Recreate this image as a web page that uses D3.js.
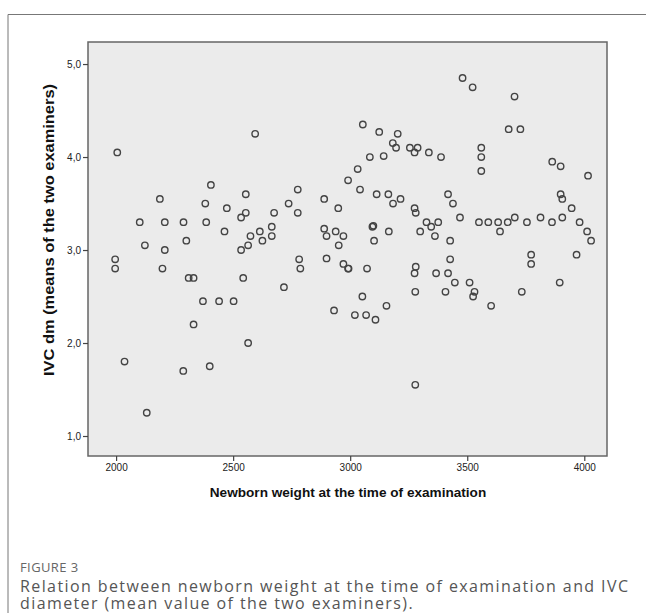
<!DOCTYPE html>
<html><head><meta charset="utf-8">
<script src="https://cdn.jsdelivr.net/npm/d3@7/dist/d3.min.js"></script>
<style>body{margin:0;background:#fff}svg{display:block}</style>
</head><body>
<script>
const weights = [1996,1996,2005,2036,2101,2123,2131,2187,2198,2208,2208,2287,2288,2300,2310,2331,2331,2371,2381,2385,2400,2405,2440,2463,2473,2502,2534,2534,2543,2554,2554,2564,2564,2574,2594,2614,2625,2665,2665,2675,2717,2737,2776,2776,2782,2787,2889,2889,2899,2899,2931,2938,2949,2951,2971,2971,2991,2991,2993,3020,3032,3042,3052,3054,3068,3072,3084,3095,3099,3102,3108,3113,3124,3143,3155,3163,3165,3182,3183,3196,3203,3215,3255,3275,3275,3275,3278,3278,3280,3280,3288,3299,3326,3336,3346,3362,3367,3376,3388,3407,3418,3418,3427,3427,3439,3447,3469,3480,3510,3523,3525,3531,3550,3560,3560,3560,3590,3602,3632,3640,3673,3677,3702,3703,3727,3733,3755,3773,3773,3813,3862,3863,3895,3899,3899,3906,3906,3946,3967,3980,4012,4016,4029];
const ivc = [2.90,2.80,4.05,1.80,3.30,3.05,1.25,3.55,2.80,3.30,3.00,1.70,3.30,3.10,2.70,2.70,2.20,2.45,3.50,3.30,1.75,3.70,2.45,3.20,3.45,2.45,3.35,3.00,2.70,3.60,3.40,3.05,2.00,3.15,4.25,3.20,3.10,3.25,3.15,3.40,2.60,3.50,3.65,3.40,2.90,2.80,3.55,3.23,3.15,2.91,2.35,3.20,3.45,3.05,3.15,2.85,3.75,2.80,2.80,2.30,3.87,3.65,2.50,4.35,2.30,2.80,4.00,3.25,3.26,3.10,2.25,3.60,4.27,4.01,2.40,3.60,3.20,4.15,3.50,4.10,4.25,3.55,4.10,4.05,3.45,2.75,2.55,1.55,3.40,2.82,4.10,3.20,3.30,4.05,3.25,3.15,2.75,3.30,4.00,2.55,3.60,2.75,3.10,2.90,3.50,2.65,3.35,4.85,2.65,4.75,2.50,2.55,3.30,4.10,4.00,3.85,3.30,2.40,3.30,3.20,3.30,4.30,4.65,3.35,4.30,2.55,3.30,2.95,2.85,3.35,3.30,3.95,2.65,3.90,3.60,3.55,3.35,3.45,2.95,3.30,3.20,3.80,3.10];
const xTicks = [2000,2500,3000,3500,4000];
const yTicks = [1,2,3,4,5];
const xTitle = "Newborn weight at the time of examination";
const yTitle = "IVC dm (means of the two examiners)";
const figLabel = "FIGURE 3";
const captionLines = ["Relation between newborn weight at the time of examination and IVC","diameter (mean value of the two examiners)."];

const W = 646, H = 613;
const svg = d3.select("body").append("svg").attr("width", W).attr("height", H);

// outer frame
svg.append("path").attr("d", `M8,${H} V14.5 H${W}`).attr("fill","none").attr("stroke","#777").attr("stroke-width",1);

const L = 88, R = 607, T = 42, B = 456;
const x = d3.scaleLinear().domain([1880, 4097]).range([L, R]);
const y = d3.scaleLinear().domain([0.785, 5.237]).range([B, T]);

svg.append("rect").attr("x",L).attr("y",T).attr("width",R-L).attr("height",B-T)
  .attr("fill","#ebebeb").attr("stroke","#666").attr("stroke-width",1.5);

const xAxis = svg.append("g").attr("transform",`translate(0,${B})`)
  .call(d3.axisBottom(x).tickValues(xTicks).tickSize(5).tickPadding(3).tickFormat(d3.format("d")));
const yAxis = svg.append("g").attr("transform",`translate(${L},0)`)
  .call(d3.axisLeft(y).tickValues(yTicks).tickSize(5).tickPadding(2).tickFormat(d => d3.format(".1f")(d).replace(".", ",")));
[xAxis, yAxis].forEach(g => {
  g.select(".domain").remove();
  g.selectAll("line").attr("stroke","#444").attr("stroke-width",1.2);
  g.selectAll("text").attr("font-family","Arial, 'Liberation Sans', sans-serif").attr("font-size",10).attr("fill","#222");
});

svg.append("g").selectAll("circle").data(weights).join("circle")
  .attr("cx", (d) => x(d)).attr("cy", (d,i) => y(ivc[i])).attr("r", 3.2)
  .attr("fill","none").attr("stroke","#444").attr("stroke-width",1.4);

svg.append("text").attr("x", 348).attr("y", 497).attr("text-anchor","middle")
  .attr("font-family","Arial, 'Liberation Sans', sans-serif").attr("font-weight","bold").attr("font-size",13.6).attr("fill","#111")
  .text(xTitle);
svg.append("text").attr("transform","translate(54,230) rotate(-90)").attr("text-anchor","middle")
  .attr("font-family","Arial, 'Liberation Sans', sans-serif").attr("font-weight","bold").attr("font-size",14)
  .attr("textLength",292).attr("lengthAdjust","spacingAndGlyphs").attr("fill","#111")
  .text(yTitle);

svg.append("text").attr("x",20).attr("y",572).attr("font-family","'Open Sans', sans-serif").attr("font-size",13).attr("letter-spacing",0.4).attr("fill","#666").text(figLabel);
captionLines.forEach((t,i) => {
  svg.append("text").attr("x",20).attr("y",592 + i*17).attr("font-family","'Open Sans', sans-serif").attr("font-size",16).attr("letter-spacing",1.4).attr("fill","#555").text(t);
});
</script>
</body></html>
